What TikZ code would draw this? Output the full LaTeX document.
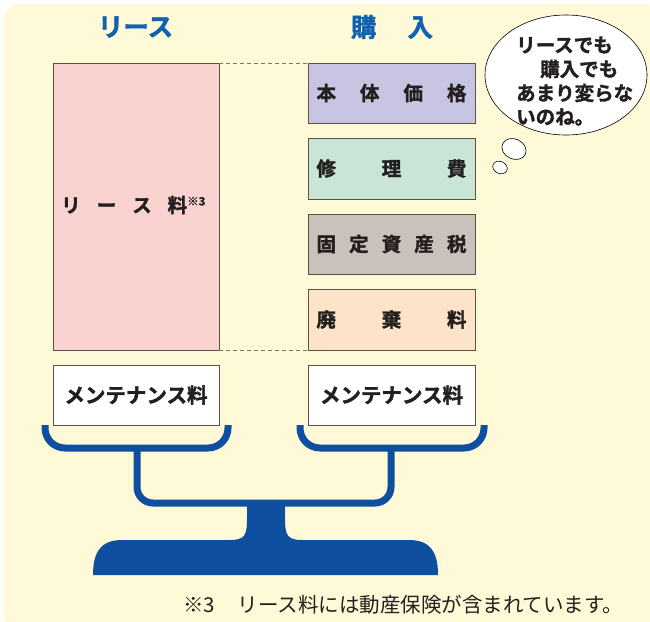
\documentclass[tikz,border=0pt]{standalone}
\usepackage{fontspec}
\newfontfamily\jp{Noto Sans CJK JP}
\newfontfamily\jpb{Noto Sans CJK JP}[UprightFont={* Bold}, FakeBold=1.6]
\definecolor{bgc}{HTML}{FEF9D6}
\definecolor{pan}{HTML}{0E4FA0}
\definecolor{hdr}{HTML}{0E62B0}
\definecolor{pinkc}{HTML}{FAD3D0}
\definecolor{lavc}{HTML}{C8C5E2}
\definecolor{grnc}{HTML}{C9E5D5}
\definecolor{grayc}{HTML}{CAC0BC}
\definecolor{peachc}{HTML}{FDE3C8}
\definecolor{edgec}{HTML}{5A5048}
\definecolor{txtc}{HTML}{231F1F}
\tikzset{
  costbox/.style={draw=edgec, line width=0.8pt},
  boxtext/.style={font=\jpb\fontsize{19.5}{20}\selectfont, text=txtc, inner sep=0pt},
  hdrtext/.style={font=\jpb\fontsize{25.5}{26}\selectfont, text=hdr, inner sep=0pt},
  bubtext/.style={font=\jpb\fontsize{19.5}{20}\selectfont, text=txtc, inner sep=0pt, anchor=west},
  guide/.style={draw=edgec!80, dash pattern=on 4pt off 3pt, line width=0.7pt},
  panline/.style={draw=pan, line width=7pt, rounded corners=20pt},
}
\begin{document}
\begin{tikzpicture}[x=1pt,y=-1pt]
\useasboundingbox (0,0) rectangle (650,621);
% background
\fill[bgc, rounded corners=16pt] (4,4) rectangle (660,633);
% headers
\node[hdrtext] (hlease) at (135.5,27) {リース};
\node[hdrtext] (hbuy) at (392,27) {\makebox[82pt][s]{購\hfill 入}};
% lease box
\draw[costbox, fill=pinkc] (53,63) rectangle (219,350);
\coordinate (lTR) at (219,63);
\coordinate (lBR) at (219,350);
\node[boxtext, anchor=west] (lease) at (61,205) {\makebox[126pt][s]{リ\hfill ー\hfill ス\hfill 料}\raisebox{7pt}{\fontsize{11.5}{12}\selectfont ※3}};
% purchase boxes
\draw[costbox, fill=lavc] (308,63) rectangle (475,123);
\draw[costbox, fill=grnc] (308,138) rectangle (475,199);
\draw[costbox, fill=grayc] (308,214) rectangle (475,274);
\draw[costbox, fill=peachc] (308,289) rectangle (475,350);
\coordinate (pTL) at (308,63);
\coordinate (pBL) at (308,350);
\node[boxtext] (b1) at (391.5,93) {\makebox[150pt][s]{本\hfill 体\hfill 価\hfill 格}};
\node[boxtext] (b2) at (391.5,168.5) {\makebox[150pt][s]{修\hfill 理\hfill 費}};
\node[boxtext] (b3) at (391.5,244) {\makebox[150pt][s]{固\hfill 定\hfill 資\hfill 産\hfill 税}};
\node[boxtext] (b4) at (391.5,319.5) {\makebox[150pt][s]{廃\hfill 棄\hfill 料}};
% dashed guides
\draw[guide] (lTR) -- (pTL);
\draw[guide] (lBR) -- (pBL);
% maintenance boxes
\draw[costbox, fill=white] (53,365) rectangle (219,425);
\draw[costbox, fill=white] (308,365) rectangle (475,425);
\node[boxtext, font=\jpb\fontsize{20.5}{21}\selectfont] (m1) at (136,395) {メンテナンス料};
\node[boxtext, font=\jpb\fontsize{20.5}{21}\selectfont] (m2) at (391.5,395) {メンテナンス料};
% scale pans
\draw[panline] (45,425) -- (45,448) -- (228,448) -- (228,425);
\draw[panline] (300,425) -- (300,448) -- (484,448) -- (484,425);
\draw[panline, rounded corners=16pt] (137,448) -- (137,503) -- (391,503) -- (391,448);
% pedestal
\fill[pan] (247,503) -- (247,518) .. controls (247,535) and (245,540) .. (230,540)
  -- (122,540) .. controls (100,540) and (93,553) .. (93,575)
  -- (438,575) .. controls (438,553) and (431,540) .. (409,540)
  -- (302,540) .. controls (287,540) and (285,535) .. (285,518) -- (285,503) -- cycle;
% thought bubble
\draw[line width=0.6pt, fill=white] (566,75) ellipse [x radius=81, y radius=60];
\draw[line width=0.6pt, fill=white, rotate around={-25:(514,149)}] (514,149) ellipse [x radius=12.5, y radius=10];
\draw[line width=0.6pt, fill=white, rotate around={-25:(500,167.5)}] (500,167.5) ellipse [x radius=7.5, y radius=6];
\node[bubtext] (t1) at (516,45) {リースでも};
\node[bubtext] (t2) at (540,69) {購入でも};
\node[bubtext] (t3) at (516,93) {あまり変らな};
\node[bubtext] (t4) at (516,117) {いのね。};
% footnote
\node[font=\jp\fontsize{20.5}{21}\selectfont, text=txtc, anchor=west, inner sep=0pt] (fn) at (183,605) {※3\hspace{2pt}　リース料には動産保険が含まれています。};
\end{tikzpicture}
\end{document}
